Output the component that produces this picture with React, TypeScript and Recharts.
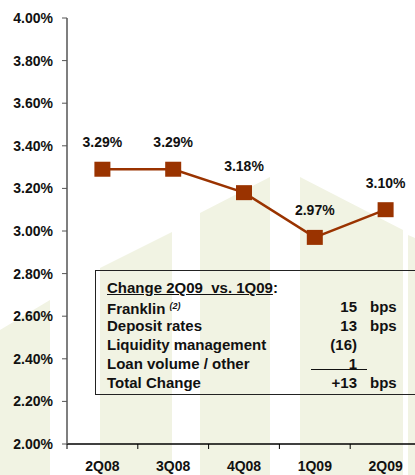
import { LineChart, Line, XAxis, YAxis, LabelList } from "recharts";

const QUARTERS = ["2Q08", "3Q08", "4Q08", "1Q09", "2Q09"];
const NIM = [3.29, 3.29, 3.18, 2.97, 3.1];
const Y_TICKS = [2.0, 2.2, 2.4, 2.6, 2.8, 3.0, 3.2, 3.4, 3.6, 3.8, 4.0];

const CHANGE_TITLE = "Change 2Q09  vs. 1Q09";
const CHANGE_ITEMS = ["Franklin", "Deposit rates", "Liquidity management", "Loan volume / other"];
const CHANGE_VALUES = ["15", "13", "(16)", "1"];
const CHANGE_UNITS = ["bps", "bps", "", ""];
const TOTAL_LABEL = "Total Change";
const TOTAL_VALUE = "+13";
const TOTAL_UNIT = "bps";

const data = QUARTERS.map((q, i) => ({ quarter: q, nim: NIM[i] }));

const FONT = "Arial, 'Liberation Sans', sans-serif";
const RED = "#9a3300";
const CHART_W = 425;
const CHART_H = 475;
const Y_AXIS_W = 67;
const MARGIN_R = 4;
const HALF_BAND = (CHART_W - Y_AXIS_W - MARGIN_R) / QUARTERS.length / 2;

function XTick(props: any) {
  const { x, y, payload } = props;
  return (
    <g>
      <line x1={x - HALF_BAND} x2={x - HALF_BAND} y1={y} y2={y + 5} stroke="#000" strokeWidth={1} />
      <text x={x} y={y + 27} textAnchor="middle" fontFamily={FONT} fontWeight="bold" fontSize={14} fill="#111">
        {payload.value}
      </text>
    </g>
  );
}

function Marker(props: any) {
  const { cx, cy, index } = props;
  return <rect key={`m-${index}`} x={cx - 8} y={cy - 7.5} width={16} height={15} fill={RED} />;
}

function ValueLabel(props: any) {
  const { x, y, value } = props;
  return (
    <text x={x} y={y - 22} textAnchor="middle" fontFamily={FONT} fontWeight="bold" fontSize={14} fill="#111">
      {`${Number(value).toFixed(2)}%`}
    </text>
  );
}

function Watermark() {
  const fill = "#f1f3e3";
  return (
    <svg width={415} height={475} style={{ position: "absolute", left: 0, top: 0 }}>
      <polygon points="0,330 50,300 50,475 0,475" fill={fill} />
      <polygon points="100,268 172,232 172,475 100,475" fill={fill} />
      <polygon points="200,213 270,177 270,475 200,475" fill={fill} />
      <polygon points="300,177 403,230 403,475 300,475" fill={fill} />
      <polygon points="408,235 415,238 415,475 408,475" fill={fill} />
    </svg>
  );
}

function ChangeBox() {
  const rowH = 19;
  const row = (label: any, value: string, unit: string, i: number) => (
    <div key={i} style={{ position: "absolute", left: 0, top: 7 + rowH * i, height: rowH, width: "100%" }}>
      <span style={{ position: "absolute", left: 11 }}>{label}</span>
      <span style={{ position: "absolute", left: 200, width: 61, textAlign: "right" }}>{value}</span>
      <span style={{ position: "absolute", left: 274 }}>{unit}</span>
    </div>
  );
  return (
    <div
      style={{
        position: "absolute",
        left: 95,
        top: 270,
        width: 340,
        height: 125,
        border: "1.5px solid #222",
        boxSizing: "border-box",
        fontFamily: FONT,
        fontWeight: "bold",
        fontSize: 15,
        lineHeight: `${rowH}px`,
        color: "#111",
      }}
    >
      <div style={{ position: "absolute", left: 11, top: 7, whiteSpace: "pre" }}>
        <span style={{ textDecoration: "underline" }}>{CHANGE_TITLE}</span>:
      </div>
      {CHANGE_ITEMS.map((item, i) =>
        row(
          i === 0 ? (
            <>
              {item} <sup style={{ fontSize: 9, fontStyle: "italic", verticalAlign: 5 }}>(2)</sup>
            </>
          ) : (
            item
          ),
          CHANGE_VALUES[i],
          CHANGE_UNITS[i],
          i + 1
        )
      )}
      <div style={{ position: "absolute", left: 215, top: 98, width: 56, height: 1, background: "#111" }} />
      {row(TOTAL_LABEL, TOTAL_VALUE, TOTAL_UNIT, 5)}
    </div>
  );
}

export default function App() {
  return (
    <div
      style={{
        position: "absolute",
        left: 0,
        top: 0,
        width: 415,
        height: 475,
        overflow: "hidden",
        background: "#fff",
      }}
    >
      <Watermark />
      <div style={{ position: "absolute", left: 0, top: 0 }}>
        <LineChart width={CHART_W} height={CHART_H} data={data} margin={{ top: 18, right: MARGIN_R, left: 0, bottom: 0 }}>
          <XAxis
            dataKey="quarter"
            height={31}
            padding={{ left: HALF_BAND, right: HALF_BAND }}
            axisLine={{ stroke: "#000", strokeWidth: 1.5 }}
            tickLine={false}
            tickSize={0}
            tickMargin={0}
            tick={<XTick />}
            interval={0}
          />
          <YAxis
            width={Y_AXIS_W}
            domain={[2, 4]}
            ticks={Y_TICKS}
            allowDataOverflow
            tickFormatter={(v: number) => `${v.toFixed(2)}%`}
            axisLine={{ stroke: "#555", strokeWidth: 1.5 }}
            tickLine={{ stroke: "#555" }}
            tickSize={5}
            tickMargin={9}
            tick={{ fontFamily: FONT, fontWeight: "bold", fontSize: 14, fill: "#111" }}
          />
          <Line
            type="linear"
            dataKey="nim"
            stroke={RED}
            strokeWidth={2.5}
            dot={Marker}
            activeDot={false}
            isAnimationActive={false}
          >
            <LabelList dataKey="nim" content={ValueLabel} />
          </Line>
        </LineChart>
      </div>
      <ChangeBox />
    </div>
  );
}
